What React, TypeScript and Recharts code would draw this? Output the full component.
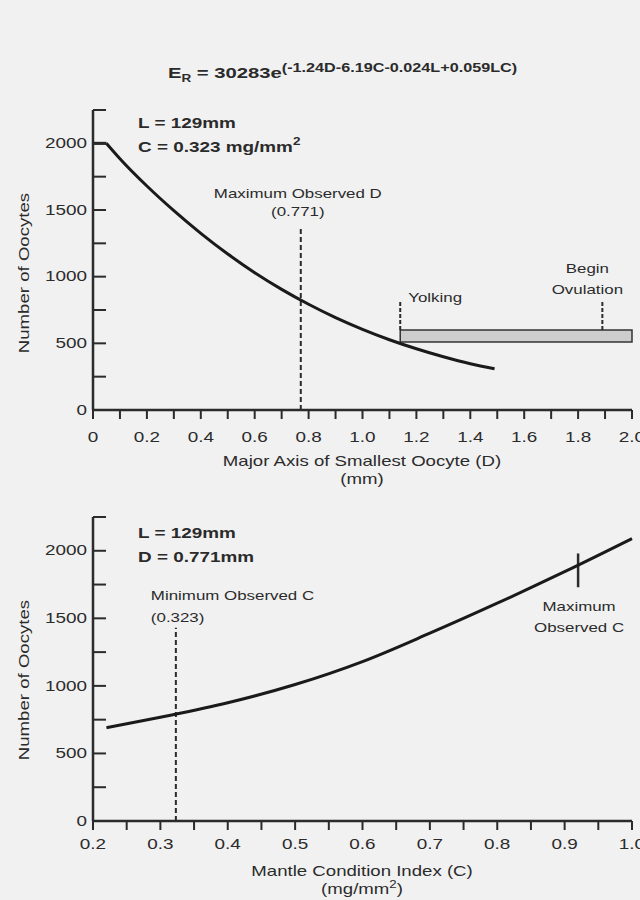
import React from 'react';
import { LineChart, Line, XAxis, YAxis, ReferenceLine, ReferenceArea } from 'recharts';

// top panel: fecundity vs smallest oocyte size (L = 129, C = 0.323)
const topPlateauD = [0, 0.05];
const topPlateauEggs = [2000, 2000];
const topD = [0.05, 0.1, 0.2, 0.3, 0.4, 0.5, 0.6, 0.7, 0.8, 0.9, 1.0, 1.1, 1.2, 1.3, 1.4, 1.49];
const topEggs = [2000, 1885, 1680, 1495, 1325, 1170, 1030, 905, 793, 693, 605, 527, 459, 399, 347, 310];

// bottom panel: fecundity vs mantle condition (L = 129, D = 0.771)
const bottomC = [0.22, 0.3, 0.4, 0.5, 0.6, 0.7, 0.8, 0.9, 1.0];
const bottomEggs = [690, 768, 875, 1010, 1180, 1390, 1612, 1845, 2090];

const yTicks = [0, 250, 500, 750, 1000, 1250, 1500, 1750, 2000, 2250];
const topXTicks = [0, 0.1, 0.2, 0.3, 0.4, 0.5, 0.6, 0.7, 0.8, 0.9, 1.0, 1.1, 1.2, 1.3, 1.4, 1.5, 1.6, 1.7, 1.8, 1.9, 2.0];
const bottomXTicks = [0.2, 0.25, 0.3, 0.35, 0.4, 0.45, 0.5, 0.55, 0.6, 0.65, 0.7, 0.75, 0.8, 0.85, 0.9, 0.95, 1.0];

// markers
const maxObservedD = 0.771;
const maxObservedDTop = 1360;
const yolkingD = 1.14;
const ovulationD = 1.89;
const stageBand = [510, 600];
const stageTickTop = 820;
const minObservedC = 0.323;
const minObservedCTop = 1430;
const maxObservedC = 0.92;
const maxObservedCSpan = [1730, 1980];

const FONT = '"Liberation Sans", Arial, Helvetica, sans-serif';
const INK = '#2b2b2b';

const SText = ({ x, y, anchor = 'middle', size = 13, weight = 'normal', sx = 1.3, rotate = 0, children }: any) => (
  <text
    transform={`translate(${x} ${y}) rotate(${rotate}) scale(${sx} 1)`}
    textAnchor={anchor}
    dominantBaseline="central"
    fontSize={size}
    fontWeight={weight}
    fill={INK}
    fontFamily={FONT}
  >
    {children}
  </text>
);

const YTick = (props: any) => {
  const { x, y, payload } = props;
  const ax = x + 6;
  const v = payload.value;
  return (
    <g>
      <line x1={ax} x2={ax + 13} y1={y} y2={y} stroke={INK} strokeWidth={2} />
      {v % 500 === 0 && v <= 2000 ? (
        <SText x={x} y={y} anchor="end" size={14} sx={1.35}>
          {v}
        </SText>
      ) : null}
    </g>
  );
};

const TopXTick = (props: any) => {
  const { x, y, payload } = props;
  const v = payload.value;
  if (Math.round(v * 10) % 2 !== 0) return <g />;
  return (
    <SText x={x} y={y + 18} size={14} sx={1.35}>
      {v === 0 ? '0' : v.toFixed(1)}
    </SText>
  );
};

const BottomXTick = (props: any) => {
  const { x, y, payload } = props;
  const v = payload.value;
  if (Math.round(v * 100) % 10 !== 0) return <g />;
  return (
    <SText x={x} y={y + 14} size={14} sx={1.35}>
      {v.toFixed(1)}
    </SText>
  );
};

const maxDLabel = ({ viewBox }: any) => (
  <g>
    <SText x={viewBox.x - 3} y={viewBox.y - 35}>Maximum Observed D</SText>
    <SText x={viewBox.x - 3} y={viewBox.y - 17}>(0.771)</SText>
  </g>
);

const yolkingLabel = ({ viewBox }: any) => (
  <SText x={viewBox.x + 8} y={viewBox.y - 3} anchor="start">Yolking</SText>
);

const ovulationLabel = ({ viewBox }: any) => (
  <g>
    <SText x={viewBox.x - 15} y={viewBox.y - 32}>Begin</SText>
    <SText x={viewBox.x - 15} y={viewBox.y - 11}>Ovulation</SText>
  </g>
);

const minCLabel = ({ viewBox }: any) => (
  <g>
    <SText x={viewBox.x - 25} y={viewBox.y - 33} anchor="start">Minimum Observed C</SText>
    <SText x={viewBox.x - 25} y={viewBox.y - 11} anchor="start">(0.323)</SText>
  </g>
);

const maxCLabel = ({ viewBox }: any) => {
  const bottom = viewBox.y + viewBox.height;
  return (
    <g>
      <SText x={viewBox.x + 1} y={bottom + 19}>Maximum</SText>
      <SText x={viewBox.x + 1} y={bottom + 40}>Observed C</SText>
    </g>
  );
};

const plateauData = topPlateauD.map((d, i) => ({ x: d, y: topPlateauEggs[i] }));
const topData = topD.map((d, i) => ({ x: d, y: topEggs[i] }));
const bottomData = bottomC.map((c, i) => ({ x: c, y: bottomEggs[i] }));

const axisLine = { stroke: INK, strokeWidth: 2.5 };
const tickLine = { stroke: INK, strokeWidth: 2 };

export default function App() {
  return (
    <div style={{ position: 'absolute', left: 0, top: 0, width: 640, height: 900, background: '#f1f1f1' }}>
      <div style={{ position: 'absolute', left: 0, top: 0 }}>
        <LineChart width={640} height={470} margin={{ top: 110, right: 8, left: 33, bottom: 30 }}>
          <XAxis
            type="number"
            dataKey="x"
            domain={[0, 2]}
            ticks={topXTicks}
            interval={0}
            height={30}
            axisLine={axisLine}
            tickLine={tickLine}
            tickSize={9}
            tickMargin={0}
            tick={<TopXTick />}
          />
          <YAxis
            type="number"
            domain={[0, 2250]}
            ticks={yTicks}
            interval={0}
            width={60}
            axisLine={axisLine}
            tickLine={false}
            tickSize={0}
            tickMargin={6}
            tick={<YTick />}
          />
          <ReferenceArea
            x1={yolkingD}
            x2={2}
            y1={stageBand[0]}
            y2={stageBand[1]}
            fill="#cdcdcd"
            fillOpacity={1}
            stroke="#333"
            strokeWidth={1.5}
          />
          <ReferenceLine
            segment={[{ x: maxObservedD, y: 0 }, { x: maxObservedD, y: maxObservedDTop }]}
            stroke={INK}
            strokeWidth={2}
            strokeDasharray="5 3"
            label={maxDLabel}
          />
          <ReferenceLine
            segment={[{ x: yolkingD, y: stageBand[1] }, { x: yolkingD, y: stageTickTop }]}
            stroke={INK}
            strokeWidth={2}
            strokeDasharray="4 2"
            label={yolkingLabel}
          />
          <ReferenceLine
            segment={[{ x: ovulationD, y: stageBand[1] }, { x: ovulationD, y: stageTickTop }]}
            stroke={INK}
            strokeWidth={2}
            strokeDasharray="4 2"
            label={ovulationLabel}
          />
          <Line
            data={plateauData}
            dataKey="y"
            type="linear"
            stroke="#1a1a1a"
            strokeWidth={3}
            dot={false}
            isAnimationActive={false}
          />
          <Line
            data={topData}
            dataKey="y"
            type="monotone"
            stroke="#1a1a1a"
            strokeWidth={3}
            dot={false}
            isAnimationActive={false}
          />
        </LineChart>
      </div>
      <div style={{ position: 'absolute', left: 0, top: 470 }}>
        <LineChart width={640} height={430} margin={{ top: 47, right: 8, left: 33, bottom: 49 }}>
          <XAxis
            type="number"
            dataKey="x"
            domain={[0.2, 1]}
            ticks={bottomXTicks}
            interval={0}
            height={30}
            axisLine={axisLine}
            tickLine={tickLine}
            tickSize={9}
            tickMargin={0}
            tick={<BottomXTick />}
          />
          <YAxis
            type="number"
            domain={[0, 2250]}
            ticks={yTicks}
            interval={0}
            width={60}
            axisLine={axisLine}
            tickLine={false}
            tickSize={0}
            tickMargin={6}
            tick={<YTick />}
          />
          <ReferenceLine
            segment={[{ x: minObservedC, y: 0 }, { x: minObservedC, y: minObservedCTop }]}
            stroke={INK}
            strokeWidth={2}
            strokeDasharray="5 3"
            label={minCLabel}
          />
          <ReferenceLine
            segment={[{ x: maxObservedC, y: maxObservedCSpan[0] }, { x: maxObservedC, y: maxObservedCSpan[1] }]}
            stroke={INK}
            strokeWidth={2.5}
            label={maxCLabel}
          />
          <Line
            data={bottomData}
            dataKey="y"
            type="monotone"
            stroke="#1a1a1a"
            strokeWidth={3}
            dot={false}
            isAnimationActive={false}
          />
        </LineChart>
      </div>
      <svg width={640} height={900} style={{ position: 'absolute', left: 0, top: 0, pointerEvents: 'none' }}>
        <text
          transform="translate(168 78) scale(1.35 1)"
          fontFamily={FONT}
          fontWeight="bold"
          fontSize={15}
          fill={INK}
        >
          <tspan>E</tspan>
          <tspan fontSize={10} dy={4}>R</tspan>
          <tspan dy={-4}> = 30283e</tspan>
          <tspan fontSize={12} dy={-6}>(-1.24D-6.19C-0.024L+0.059LC)</tspan>
        </text>
        <SText x={138} y={123} anchor="start" size={14} sx={1.35} weight="bold">L = 129mm</SText>
        <SText x={138} y={147} anchor="start" size={14} sx={1.35} weight="bold">
          C = 0.323 mg/mm<tspan fontSize={10} dy={-5}>2</tspan>
        </SText>
        <SText x={24} y={273} rotate={-90} size={14} sx={1.33}>Number of Oocytes</SText>
        <SText x={362} y={461} size={14} sx={1.33}>Major Axis of Smallest Oocyte (D)</SText>
        <SText x={362} y={479} size={14} sx={1.33}>(mm)</SText>

        <SText x={138} y={533} anchor="start" size={14} sx={1.35} weight="bold">L = 129mm</SText>
        <SText x={138} y={557} anchor="start" size={14} sx={1.35} weight="bold">D = 0.771mm</SText>
        <SText x={24} y={680} rotate={-90} size={14} sx={1.33}>Number of Oocytes</SText>
        <SText x={362} y={871} size={14} sx={1.33}>Mantle Condition Index (C)</SText>
        <SText x={362} y={889} size={14} sx={1.33}>
          (mg/mm<tspan fontSize={10} dy={-5}>2</tspan><tspan dy={5}>)</tspan>
        </SText>
      </svg>
    </div>
  );
}
